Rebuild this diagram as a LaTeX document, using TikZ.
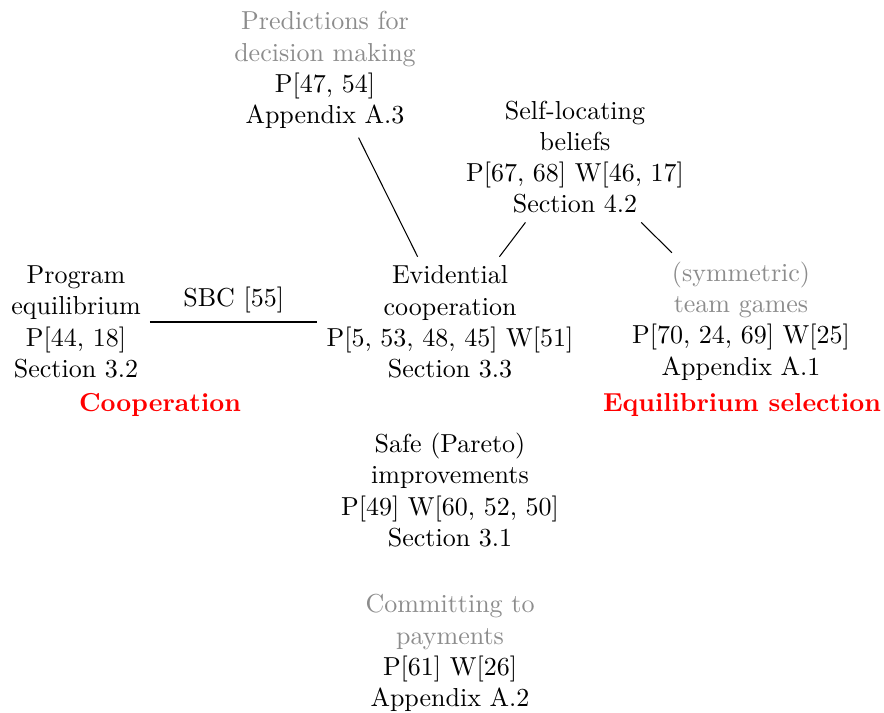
\documentclass[tikz,border=0pt]{standalone}
\usetikzlibrary{positioning}
\begin{document}
\begin{tikzpicture}[x=0.3846pt,y=-0.3846pt,
  topic/.style={align=center, inner sep=0.333em},
  faded/.style={text=black!45},
  area/.style={text=red, font=\bfseries},
  link/.style={draw=black, line width=0.4pt}]
\useasboundingbox (0,0) rectangle (884,713);
\node[topic] (pred) at (325,70) {{\color{black!45}Predictions for}\\{\color{black!45}decision making}\\P[47, 54]\\Appendix A.3};
\node[topic] (self) at (575,157) {Self-locating\\beliefs\\P[67, 68] W[46, 17]\\Section 4.2};
\node[topic] (prog) at (76,322) {Program\\equilibrium\\P[44, 18]\\Section 3.2};
\node[topic] (evid) at (450,322) {Evidential\\cooperation\\P[5, 53, 48, 45] W[51]\\Section 3.3};
\node[topic] (team) at (741,321) {{\color{black!45}(symmetric)}\\{\color{black!45}team games}\\P[70, 24, 69] W[25]\\Appendix A.1};
\node[area] (coop) at (160,405) {Cooperation};
\node[area] (eqsel) at (742,405) {Equilibrium selection};
\node[topic] (safe) at (450,490) {Safe (Pareto)\\improvements\\P[49] W[60, 52, 50]\\Section 3.1};
\node[topic] (commit) at (450,653) {{\color{black!45}Committing to}\\{\color{black!45}payments}\\P[61] W[26]\\Appendix A.2};
\draw[link] (prog) -- node[above] {SBC [55]} (evid);
\draw[link] (pred) -- (evid);
\draw[link] (self) -- (evid);
\draw[link] (self) -- (team);
\end{tikzpicture}
\end{document}
